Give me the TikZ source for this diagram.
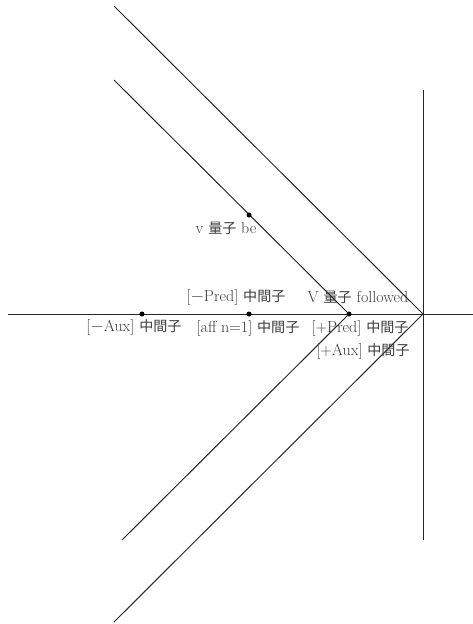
\documentclass[tikz,border=0pt]{standalone}
\usepackage{fontspec}
\usepackage{tikz}
\newfontfamily\jp[Scale=0.88]{Noto Sans CJK JP}
\definecolor{labelGray}{RGB}{60, 60, 60}
\tikzset{
  axis/.style={line width=1pt, black!85},
  dot/.style={circle, fill=black, inner sep=0pt, minimum size=5pt},
  lab/.style={text=labelGray, font=\fontsize{16}{18}\selectfont, inner sep=1pt}
}

\begin{document}
\begin{tikzpicture}[x=1pt, y=-1pt]
        \useasboundingbox (0,0) rectangle (473,624);
        % axes
        \coordinate (L) at (8,314);
        \coordinate (R) at (473,314);
        \coordinate (T) at (423,90);
        \coordinate (B) at (423,540);
        \draw[axis] (L) -- (R);
        \draw[axis] (T) -- (B);
        % outer wedge
        \coordinate (O) at (423,314);
        \coordinate (Otop) at (114,6);
        \coordinate (Obot) at (114,622);
        \draw[axis] (Otop) -- (O) -- (Obot);
        % inner wedge
        \coordinate (Itop) at (114,80);
        \coordinate (Ibot) at (122,540);
        \node[dot] (P) at (349,314) {};
        \draw[axis] (Itop) -- (P.center) -- (Ibot);
        % points
        \node[dot] (aux) at (142,314) {};
        \node[dot] (aff) at (249,314) {};
        \node[dot] (be) at (249,215) {};
        % labels
        \node[lab] (beLab) at (226,228) {v {\jp 量子} be};
        \node[lab] (predNeg) at (236,297) {[$-$Pred] {\jp 中間子}};
        \node[lab] (vFol) at (358,297) {V {\jp 量子} followed};
        \node[lab] (auxNeg) at (134,327) {[$-$Aux] {\jp 中間子}};
        \node[lab] (affLab) at (248,328) {[aff n=1] {\jp 中間子}};
        \node[lab] (predPos) at (360,328) {[+Pred] {\jp 中間子}};
        \node[lab] (auxPos) at (363,351) {[+Aux] {\jp 中間子}};
      \end{tikzpicture}
\end{document}
